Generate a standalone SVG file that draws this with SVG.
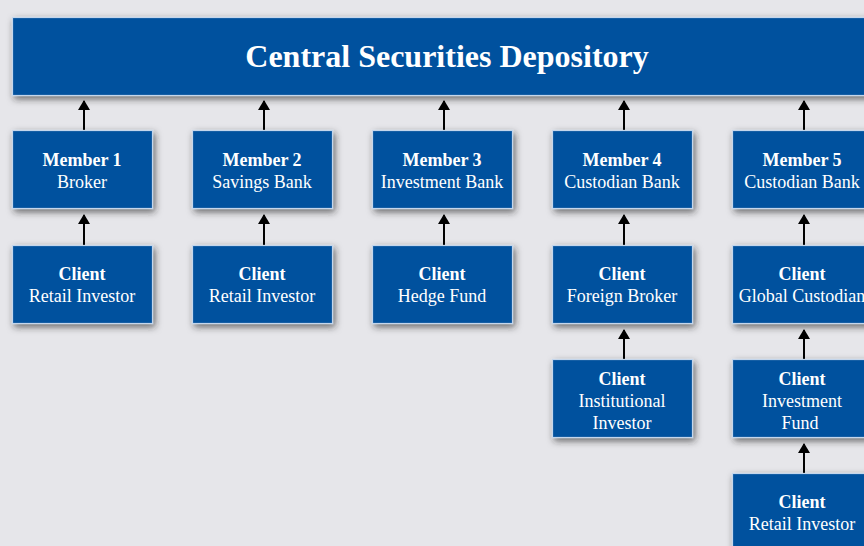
<svg xmlns="http://www.w3.org/2000/svg" width="864" height="546" viewBox="0 0 864 546">
<defs>
<filter id="sh" x="-20%" y="-20%" width="140%" height="150%">
<feDropShadow dx="2" dy="3" stdDeviation="3.5" flood-color="#222" flood-opacity="0.65"/>
</filter>
<marker id="ah" viewBox="0 0 10 12" refX="9" refY="6" markerWidth="10" markerHeight="12" markerUnits="userSpaceOnUse" orient="auto">
<path d="M0,0 L10,6 L0,12 Z" fill="#000"/>
</marker>
</defs>
<style>
.box{fill:#00519e;stroke:#c4d6ec;stroke-width:1.2;filter:url(#sh)}
text{font-family:"Liberation Serif","Times New Roman",serif;fill:#fff;text-anchor:middle;font-size:18px}
.b{font-weight:bold}
.t{font-weight:bold;font-size:32px}
.c{stroke:#000;stroke-width:2;fill:none}
</style>
<rect width="864" height="546" fill="#e6e6ea"/>
<g id="csd"><rect class="box" x="12.5" y="17.5" width="870" height="78"/><text class="t" x="447" y="67">Central Securities Depository</text></g>
<g id="connectors">
<line class="c" x1="84" y1="130" x2="84" y2="101" marker-end="url(#ah)"/>
<line class="c" x1="264" y1="130" x2="264" y2="101" marker-end="url(#ah)"/>
<line class="c" x1="444" y1="130" x2="444" y2="101" marker-end="url(#ah)"/>
<line class="c" x1="624" y1="130" x2="624" y2="101" marker-end="url(#ah)"/>
<line class="c" x1="804" y1="130" x2="804" y2="101" marker-end="url(#ah)"/>
<line class="c" x1="84" y1="245" x2="84" y2="215" marker-end="url(#ah)"/>
<line class="c" x1="264" y1="245" x2="264" y2="215" marker-end="url(#ah)"/>
<line class="c" x1="444" y1="245" x2="444" y2="215" marker-end="url(#ah)"/>
<line class="c" x1="624" y1="245" x2="624" y2="215" marker-end="url(#ah)"/>
<line class="c" x1="804" y1="245" x2="804" y2="215" marker-end="url(#ah)"/>
<line class="c" x1="624" y1="359" x2="624" y2="330" marker-end="url(#ah)"/>
<line class="c" x1="804" y1="359" x2="804" y2="330" marker-end="url(#ah)"/>
<line class="c" x1="804" y1="473" x2="804" y2="444" marker-end="url(#ah)"/>
</g>
<g id="m1"><rect class="box" x="12.5" y="130.5" width="140" height="78"/><text class="b" x="82" y="166">Member 1</text><text x="82" y="188">Broker</text></g>
<g id="m2"><rect class="box" x="192.5" y="130.5" width="140" height="78"/><text class="b" x="262" y="166">Member 2</text><text x="262" y="188">Savings Bank</text></g>
<g id="m3"><rect class="box" x="372.5" y="130.5" width="140" height="78"/><text class="b" x="442" y="166">Member 3</text><text x="442" y="188">Investment Bank</text></g>
<g id="m4"><rect class="box" x="552.5" y="130.5" width="140" height="78"/><text class="b" x="622" y="166">Member 4</text><text x="622" y="188">Custodian Bank</text></g>
<g id="m5"><rect class="box" x="732.5" y="130.5" width="140" height="78"/><text class="b" x="802" y="166">Member 5</text><text x="802" y="188">Custodian Bank</text></g>
<g id="c1"><rect class="box" x="12.5" y="245.5" width="140" height="78"/><text class="b" x="82" y="280">Client</text><text x="82" y="302">Retail Investor</text></g>
<g id="c2"><rect class="box" x="192.5" y="245.5" width="140" height="78"/><text class="b" x="262" y="280">Client</text><text x="262" y="302">Retail Investor</text></g>
<g id="c3"><rect class="box" x="372.5" y="245.5" width="140" height="78"/><text class="b" x="442" y="280">Client</text><text x="442" y="302">Hedge Fund</text></g>
<g id="c4"><rect class="box" x="552.5" y="245.5" width="140" height="78"/><text class="b" x="622" y="280">Client</text><text x="622" y="302">Foreign Broker</text></g>
<g id="c5"><rect class="box" x="732.5" y="245.5" width="140" height="78"/><text class="b" x="802" y="280">Client</text><text x="802" y="302">Global Custodian</text></g>
<g id="c6"><rect class="box" x="552.5" y="359.5" width="140" height="78"/><text class="b" x="622" y="385">Client</text><text x="622" y="407">Institutional</text><text x="622" y="429">Investor</text></g>
<g id="c7"><rect class="box" x="732.5" y="359.5" width="140" height="78"/><text class="b" x="802" y="385">Client</text><text x="802" y="407">Investment</text><text x="800" y="429">Fund</text></g>
<g id="c8"><rect class="box" x="732.5" y="473.5" width="140" height="90"/><text class="b" x="802" y="508">Client</text><text x="802" y="530">Retail Investor</text></g>
</svg>
